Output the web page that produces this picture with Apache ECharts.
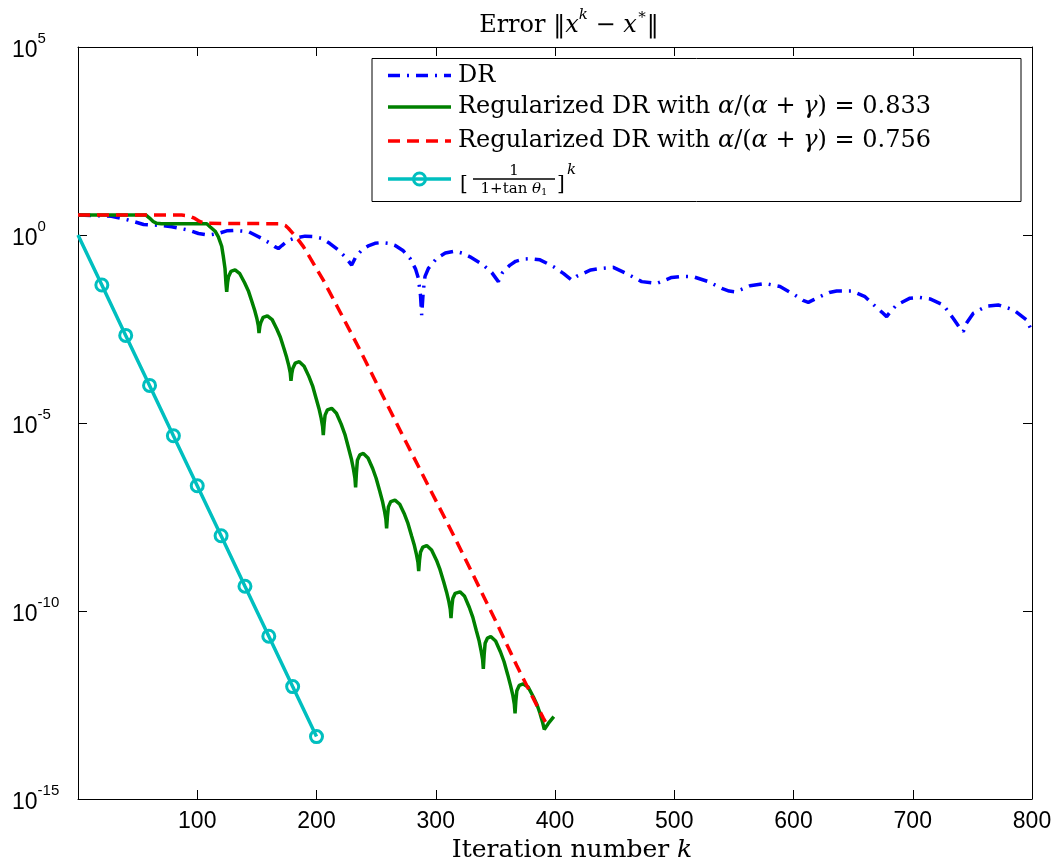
<!DOCTYPE html>
<html>
<head>
<meta charset="utf-8">
<title>Error ‖x^k − x*‖</title>
<script src="https://cdn.jsdelivr.net/npm/echarts@6/dist/echarts.min.js"></script>
<style>
  html, body { margin: 0; padding: 0; background: #fff; }
  #chart { width: 1060px; height: 863px; }
</style>
</head>
<body>
<div id="chart"></div>
<script>
// Error per iteration, stored as log10 of ||x^k - x*||; pairs are [k, log10 error].
const drPoints = [
  [0,0.53],[28,0.50],[35,0.45],[42,0.40],[55,0.28],[67,0.26],[78.6,0.22],[92.5,0.13],[101,0.04],[109,0.0],
  [117.7,0.04],[124.7,0.11],[131.7,0.12],[142.8,0.09],[154,-0.09],[160,-0.2],[165,-0.31],[168,-0.36],[171,-0.28],
  [176,-0.15],[182,-0.08],[190.4,-0.03],[197,-0.04],[204.4,-0.09],[211,-0.22],[218.3,-0.40],[224,-0.58],[229.5,-0.80],
  [233,-0.58],[237.9,-0.40],[244,-0.28],[249,-0.22],[255,-0.20],[260.4,-0.22],[266,-0.28],[272.8,-0.42],[278.4,-0.62],
  [283,-0.90],[285.4,-1.15],[287.2,-1.6],[288.2,-2.13],[289.5,-1.5],[291,-1.1],[293.8,-0.89],[300.8,-0.62],[308,-0.48],
  [316.1,-0.43],[322,-0.48],[328.7,-0.58],[339.9,-0.80],[347,-1.0],[352.5,-1.24],[356,-1.0],[362.3,-0.80],[367,-0.70],
  [373.4,-0.64],[380,-0.63],[387.4,-0.66],[398.6,-0.84],[407,-1.02],[414,-1.20],[418,-1.10],[423.7,-1.02],[430,-0.93],
  [437.7,-0.89],[448.9,-0.86],[461.5,-1.05],[472.7,-1.24],[485.3,-1.29],[491,-1.22],[497.8,-1.13],[506,-1.10],[516,-1.11],
  [528.6,-1.24],[539.8,-1.42],[546,-1.49],[551,-1.51],[556,-1.45],[563.5,-1.35],[576.1,-1.29],[588.7,-1.37],[601.3,-1.60],
  [608,-1.74],[612.4,-1.79],[617,-1.72],[623.6,-1.62],[630,-1.53],[636.2,-1.49],[648.8,-1.49],[660,-1.64],[669.7,-1.93],
  [674,-2.05],[678.1,-2.17],[681,-2.05],[686.5,-1.86],[697.7,-1.68],[706,-1.66],[714.5,-1.70],[725.6,-1.86],[734,-2.22],
  [739,-2.45],[742.4,-2.57],[745,-2.35],[750.8,-2.08],[762,-1.89],[771.7,-1.86],[784.4,-1.99],[795.6,-2.26],[800,-2.57]
];

const reg833Points = [
  [0,0.53],[57,0.53],[60,0.45],[63,0.36],[66,0.31],[70,0.30],[108,0.30],[110.7,0.22],[115,0.10],[117.7,-0.05],
  [120.5,-0.30],[121.9,-0.58],[123.3,-0.90],[124.1,-1.30],[124.7,-1.51],
  [125.4,-1.27],[126.2,-1.11],[128.2,-0.97],[131.7,-0.93],[135.7,-1.03],[139.7,-1.27],[142.8,-1.48],[145.8,-1.77],[148.2,-2.01],[150.0,-2.22],[151.2,-2.41],
  [151.8,-2.61],[152.5,-2.43],[153.3,-2.33],[155.3,-2.19],[158.8,-2.15],[162.8,-2.25],[166.7,-2.50],[169.7,-2.72],[172.7,-3.02],[175.0,-3.26],[176.8,-3.48],[178.0,-3.67],
  [178.6,-3.88],[179.3,-3.68],[180.1,-3.55],[182.1,-3.41],[185.6,-3.37],[189.6,-3.49],[193.6,-3.76],[196.7,-4.01],[199.7,-4.35],[202.1,-4.62],[203.9,-4.87],[205.1,-5.09],
  [205.7,-5.32],[206.4,-5.02],[207.2,-4.79],[209.2,-4.65],[212.7,-4.61],[216.7,-4.74],[220.7,-5.03],[223.8,-5.30],[226.8,-5.66],[229.2,-5.95],[231.0,-6.23],[232.2,-6.46],
  [232.8,-6.71],[233.5,-6.31],[234.3,-5.99],[236.3,-5.85],[239.3,-5.81],[243.2,-5.93],[247.1,-6.21],[250.0,-6.47],[253.0,-6.81],[255.3,-7.08],[257.0,-7.34],[258.2,-7.56],
  [258.8,-7.80],[259.5,-7.48],[260.3,-7.23],[262.3,-7.09],[265.8,-7.05],[269.8,-7.16],[273.8,-7.43],[276.7,-7.67],[279.7,-8.00],[282.1,-8.26],[283.9,-8.51],[285.1,-8.71],
  [285.7,-8.94],[286.4,-8.65],[287.2,-8.44],[289.2,-8.30],[292.4,-8.26],[296.5,-8.38],[300.6,-8.65],[303.6,-8.90],[306.7,-9.23],[309.1,-9.50],[311.0,-9.75],[312.2,-9.96],
  [312.8,-10.19],[313.5,-9.89],[314.3,-9.67],[316.3,-9.53],[320.3,-9.49],[324.2,-9.61],[328.1,-9.90],[331.1,-10.17],[334.0,-10.52],[336.4,-10.80],[338.1,-11.07],[339.3,-11.29],
  [339.9,-11.54],[340.6,-11.16],[341.4,-10.86],[343.4,-10.72],[346.1,-10.68],[350.2,-10.80],[354.3,-11.09],[357.3,-11.35],[360.4,-11.70],[362.8,-11.99],[364.7,-12.25],[365.9,-12.48],
  [366.5,-12.72],[367.2,-12.38],[368.0,-12.12],[370.0,-11.98],[373.4,-11.94],[377.4,-12.02],[381.8,-12.28],[385,-12.50],[387.4,-12.72],[389.5,-12.95],
  [391,-13.15],[394.4,-12.99],[399,-12.81]
];

const reg756Points = [
  [0,0.53],[87,0.53],[93,0.51],[98,0.44],[102,0.36],[106.5,0.31],[170,0.30],[174,0.25],[176.4,0.18],[180,0.05],
  [184.8,-0.13],[189,-0.31],[196,-0.68],[205.7,-1.20],[217,-1.88],[236.5,-3.06],[256,-4.30],[275.6,-5.54],
  [295.2,-6.76],[314.7,-7.97],[331.5,-9.05],[351.1,-10.32],[367.9,-11.45],[379,-12.15],[390.2,-12.85],[392,-12.95]
];

// Reference rate [1/(1+tan θ1)]^k, circles every 20 iterations
const rateK = [0, 20, 40, 60, 80, 100, 120, 140, 160, 180, 200];
const rateLog = [0.0, -1.33, -2.67, -4.00, -5.34, -6.67, -8.00, -9.34, -10.67, -12.01, -13.34];

const xTicks = { min: 0, max: 800, step: 100 };
const yTicks = { min: -15, max: 5, step: 5 };

const seriesNames = [
  'DR',
  'Regularized DR with α/(α + γ) = 0.833',
  'Regularized DR with α/(α + γ) = 0.756',
  '[1/(1+tan θ1)]^k'
];

const COLORS = { dr: '#0000ff', g: '#008000', r: '#ff0000', c: '#00bfbf' };
const SERIF = 'DejaVu Serif';
const SANS = 'Liberation Sans';
const LW = 3.5;
const LEG_FS = 24;

const chart = echarts.init(document.getElementById('chart'), null, { renderer: 'canvas' });

const axisCommon = {
  type: 'value',
  axisLine: { show: true, onZero: false, lineStyle: { color: '#000', width: 1 } },
  axisTick: { show: true, inside: true, length: 9, lineStyle: { color: '#000', width: 1 } },
  splitLine: { show: false }
};

const rateData = rateK.map((k, i) => i === 0
  ? { value: [k, rateLog[i]], symbol: 'none' }
  : [k, rateLog[i]]);

// legend drawn by hand so the fraction label can be typeset
const LG = { x: 372, y: 58.5, w: 649, h: 143, x1: 388, x2: 451, tx: 458, rows: [75.5, 107, 141, 179] };
const lgText = (y, text) => ({
  type: 'text', x: LG.tx, y: y, z: 110,
  style: {
    text: text, verticalAlign: 'middle',
    font: LEG_FS + 'px "' + SERIF + '"', fill: '#000',
    rich: {
      r: { fontFamily: SERIF, fontSize: LEG_FS },
      i: { fontFamily: SERIF, fontSize: LEG_FS, fontStyle: 'italic' }
    }
  }
});
const lgLine = (y, color, dash) => ({
  type: 'line', z: 110,
  shape: { x1: LG.x1, y1: y, x2: LG.x2, y2: y },
  style: { stroke: color, lineWidth: LW, lineDash: dash || null }
});

const fracX = 514;
const graphic = [
  { type: 'rect', z: 100, shape: { x: LG.x, y: LG.y, width: LG.w, height: LG.h },
    style: { fill: '#fff', stroke: '#000', lineWidth: 1 } },
  lgLine(LG.rows[0], COLORS.dr, [12, 7, 2, 7]),
  lgLine(LG.rows[1], COLORS.g),
  lgLine(LG.rows[2], COLORS.r, [12, 7]),
  lgLine(LG.rows[3], COLORS.c),
  { type: 'circle', z: 111, shape: { cx: (LG.x1 + LG.x2) / 2, cy: LG.rows[3], r: 6 },
    style: { fill: 'none', stroke: COLORS.c, lineWidth: 3 } },
  lgText(LG.rows[0], '{r|DR}'),
  lgText(LG.rows[1], '{r|Regularized DR with }{i|α}{r|/(}{i|α}{r| + }{i|γ}{r|) = 0.833}'),
  lgText(LG.rows[2], '{r|Regularized DR with }{i|α}{r|/(}{i|α}{r| + }{i|γ}{r|) = 0.756}'),
  { type: 'text', z: 110, x: LG.tx + 2, y: LG.rows[3] + 6,
    style: { text: '[', font: '20px "' + SERIF + '"', fill: '#000', verticalAlign: 'middle' } },
  { type: 'text', z: 110, x: fracX, y: LG.rows[3] - 8,
    style: { text: '1', font: '15px "' + SERIF + '"', fill: '#000', align: 'center', verticalAlign: 'middle' } },
  { type: 'line', z: 110, shape: { x1: 473, y1: LG.rows[3], x2: 555, y2: LG.rows[3] },
    style: { stroke: '#000', lineWidth: 1.3 } },
  { type: 'text', z: 110, x: fracX, y: LG.rows[3] + 10,
    style: {
      text: '{r|1+tan }{i|θ}{b|1}', align: 'center', verticalAlign: 'middle', fill: '#000',
      font: '15px "' + SERIF + '"',
      rich: {
        r: { fontFamily: SERIF, fontSize: 15 },
        i: { fontFamily: SERIF, fontSize: 15, fontStyle: 'italic' },
        b: { fontFamily: SERIF, fontSize: 10, verticalAlign: 'bottom', padding: [6, 0, 0, 0] }
      }
    } },
  { type: 'text', z: 110, x: 557, y: LG.rows[3] + 6,
    style: { text: ']', font: '20px "' + SERIF + '"', fill: '#000', verticalAlign: 'middle' } },
  { type: 'text', z: 110, x: 567, y: LG.rows[3] - 9,
    style: { text: 'k', font: 'italic 15px "' + SERIF + '"', fill: '#000', verticalAlign: 'middle' } }
];

const option = {
  backgroundColor: '#fff',
  animation: false,
  title: {
    text: '{r|Error }{i|‖x}{s|k}{r| − }{i|x}{s|∗}{i|‖}',
    left: 564, top: 3, textAlign: 'center',
    textStyle: {
      fontWeight: 'normal',
      rich: {
        r: { fontFamily: SERIF, fontSize: 24, fontWeight: 'normal', color: '#000', padding: [6, 0, 0, 0] },
        i: { fontFamily: SERIF, fontSize: 24, fontWeight: 'normal', color: '#000', fontStyle: 'italic', padding: [6, 0, 0, 0] },
        s: { fontFamily: SERIF, fontSize: 15, fontWeight: 'normal', color: '#000', fontStyle: 'italic', verticalAlign: 'top' }
      }
    }
  },
  grid: { left: 78, right: 28, top: 47, bottom: 64, containLabel: false, outerBoundsMode: 'none' },
  xAxis: [
    Object.assign({}, axisCommon, {
      position: 'bottom', min: xTicks.min, max: xTicks.max, interval: xTicks.step,
      axisLabel: {
        margin: 11, color: '#000', fontFamily: SANS, fontSize: 23,
        formatter: v => (v === 0 ? '' : String(v))
      },
      name: '{r|Iteration number }{i|k}', nameLocation: 'middle', nameGap: 38,
      nameTextStyle: {
        padding: [0, 0, 0, 34],
        rich: {
          r: { fontFamily: SERIF, fontSize: 25, color: '#000' },
          i: { fontFamily: SERIF, fontSize: 25, color: '#000', fontStyle: 'italic' }
        }
      }
    }),
    Object.assign({}, axisCommon, {
      position: 'top', min: xTicks.min, max: xTicks.max, interval: xTicks.step,
      axisLabel: { show: false }
    })
  ],
  yAxis: [
    Object.assign({}, axisCommon, {
      position: 'left', min: yTicks.min, max: yTicks.max, interval: yTicks.step,
      axisLabel: {
        margin: 66, align: 'left', color: '#000',
        formatter: v => '{b|10}{e|' + v + '}',
        rich: {
          b: { fontFamily: SANS, fontSize: 23, color: '#000', padding: [8, 0, 0, 0] },
          e: { fontFamily: SANS, fontSize: 15, color: '#000', verticalAlign: 'top' }
        }
      }
    }),
    Object.assign({}, axisCommon, {
      position: 'right', min: yTicks.min, max: yTicks.max, interval: yTicks.step,
      axisLabel: { show: false }
    })
  ],
  series: [
    {
      name: seriesNames[0], type: 'line', data: drPoints, showSymbol: false, symbol: 'none',
      lineStyle: { color: COLORS.dr, width: LW, type: [13, 7, 2, 7] }, z: 2
    },
    {
      name: seriesNames[1], type: 'line', data: reg833Points, showSymbol: false, symbol: 'none',
      lineStyle: { color: COLORS.g, width: LW }, z: 3
    },
    {
      name: seriesNames[2], type: 'line', data: reg756Points, showSymbol: false, symbol: 'none',
      lineStyle: { color: COLORS.r, width: LW, type: [12, 7] }, z: 4
    },
    {
      name: seriesNames[3], type: 'line', data: rateData, symbol: 'circle', symbolSize: 12,
      showSymbol: true,
      itemStyle: { color: 'rgba(0,0,0,0)', borderColor: COLORS.c, borderWidth: 3 },
      lineStyle: { color: COLORS.c, width: LW }, z: 5
    }
  ],
  graphic: graphic
};

chart.setOption(option);
</script>
</body>
</html>
